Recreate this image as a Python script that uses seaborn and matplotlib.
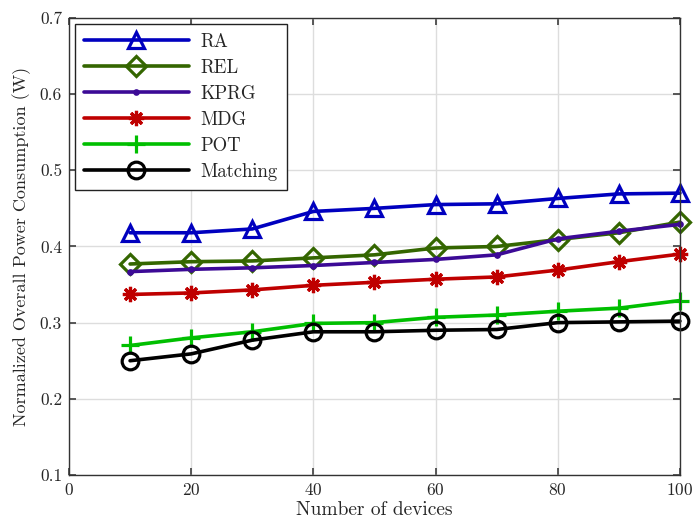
import numpy as np
import matplotlib
matplotlib.use("Agg")
import matplotlib.pyplot as plt
import seaborn as sns

# data
devices = [10, 20, 30, 40, 50, 60, 70, 80, 90, 100]
ra = [0.418, 0.418, 0.423, 0.446, 0.450, 0.455, 0.456, 0.463, 0.469, 0.470]
rel = [0.377, 0.380, 0.381, 0.385, 0.389, 0.398, 0.400, 0.409, 0.418, 0.432]
kprg = [0.367, 0.370, 0.372, 0.375, 0.379, 0.383, 0.389, 0.410, 0.420, 0.429]
mdg = [0.337, 0.339, 0.343, 0.349, 0.353, 0.357, 0.360, 0.369, 0.380, 0.390]
pot = [0.270, 0.280, 0.288, 0.299, 0.300, 0.307, 0.310, 0.315, 0.319, 0.329]
matching = [0.250, 0.259, 0.277, 0.288, 0.288, 0.290, 0.291, 0.300, 0.301, 0.302]

sns.set_theme(style="whitegrid")
plt.rcParams["font.family"] = ["cmr10", "DejaVu Serif"]
plt.rcParams["mathtext.fontset"] = "cm"
plt.rcParams["axes.unicode_minus"] = False
plt.rcParams["axes.formatter.use_mathtext"] = True

fig = plt.figure(figsize=(6.99, 5.28), dpi=100)
ax = fig.add_axes([0.0987, 0.1004, 0.874, 0.8656])

series = [
    ("RA", ra, "#0000BF", "^", 12, "none"),
    ("REL", rel, "#346600", "D", 10, "none"),
    ("KPRG", kprg, "#3C0A96", ".", 5, None),
    ("MDG", mdg, "#BF0000", (8, 2, 0), 11, None),
    ("POT", pot, "#00BF00", "+", 13, None),
    ("Matching", matching, "#000000", "o", 12, "none"),
]

for name, vals, col, mk, ms, fc in series:
    kw = dict(marker=mk, markersize=ms, markeredgecolor=col, markeredgewidth=2.3)
    kw["markerfacecolor"] = fc if fc is not None else col
    sns.lineplot(x=devices, y=vals, ax=ax, color=col, linewidth=2.6, label=name,
                 clip_on=False, zorder=3, **kw)

ax.set_xlim(0, 100)
ax.set_ylim(0.1, 0.7)
ax.set_xticks(np.arange(0, 101, 20))
ax.set_yticks(np.arange(0.1, 0.71, 0.1))
ax.set_yticklabels(["0.1", "0.2", "0.3", "0.4", "0.5", "0.6", "0.7"])
ax.set_xlabel("Number of devices", fontsize=14, labelpad=2)
ax.set_ylabel("Normalized Overall Power Consumption (W)", fontsize=13, labelpad=6)
ax.tick_params(labelsize=12.5, direction="in", length=5, color="#444444",
               top=True, right=True, bottom=True, left=True, pad=5)
ax.grid(True, color="#DDDDDD", linewidth=1)
ax.set_axisbelow(True)
for s in ax.spines.values():
    s.set_color("#333333")
    s.set_linewidth(1)
    s.set_zorder(4)

leg = ax.legend(loc="upper left", fontsize=13.5, handlelength=5.6, fancybox=False,
                framealpha=1, edgecolor="#222222", borderaxespad=0.3,
                labelspacing=0.43, handletextpad=0.6, borderpad=0.5)
leg.get_frame().set_linewidth(1)
leg.set_zorder(5)

fig.savefig("out.png", dpi=100)
